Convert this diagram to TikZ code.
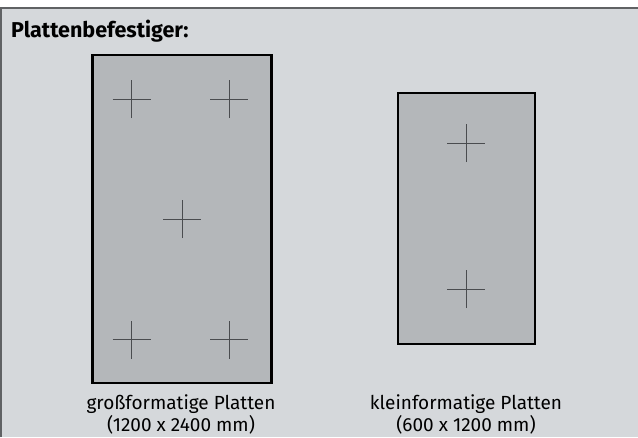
\documentclass[tikz,border=0pt]{standalone}
\usepackage{fontspec}
\setmainfont{Fira Sans}
\begin{document}
\begin{tikzpicture}[x=1pt,y=-1pt,
  bg/.style={fill=bgfill,draw=none},
  panel/.style={fill=panelfill,draw=black,line width=2.6pt},
  cross/.style={draw=crossline,line width=1pt},
  lbl/.style={font=\fontsize{19}{22}\selectfont,align=center,inner sep=0pt}]
\definecolor{bgfill}{HTML}{D5D8DB}
\definecolor{panelfill}{HTML}{B4B7BA}
\definecolor{crossline}{HTML}{4A4C4F}
\definecolor{frameline}{HTML}{606264}
\useasboundingbox (0,0) rectangle (638,437);
\fill[white] (0,0) rectangle (638,437);
\fill[bgfill] (0,8) rectangle (638,437);
\draw[frameline,line width=1.8pt] (1,437) -- (1,8) -- (638,8);
\node[anchor=base west,inner sep=0pt,font=\fontsize{21.5}{25}\selectfont\bfseries] (title) at (11,37) {Plattenbefestiger:};
% big panel
\node[panel,minimum width=179pt,minimum height=328pt,inner sep=0pt] (big) at (182,219) {};
\foreach \n/\px/\py in {a/131.5/99,b/229/99,c/182/219,d/131.5/339.5,e/229/339.5}{
  \coordinate (\n) at (\px,\py);
  \draw[cross] ([xshift=-19pt]\n) -- ([xshift=19pt]\n);
  \draw[cross] ([yshift=-19pt]\n) -- ([yshift=19pt]\n);
}
% small panel
\node[panel,minimum width=137pt,minimum height=251pt,inner sep=0pt] (small) at (466.5,218.5) {};
\foreach \n/\px/\py in {f/466/143,g/466/289}{
  \coordinate (\n) at (\px,\py);
  \draw[cross] ([xshift=-19pt]\n) -- ([xshift=19pt]\n);
  \draw[cross] ([yshift=-19pt]\n) -- ([yshift=19pt]\n);
}
\node[lbl,anchor=base] (l1) at (181,409) {großformatige Platten};
\node[lbl,anchor=base] (l1b) at (181,431) {(1200 x 2400 mm)};
\node[lbl,anchor=base] (l2) at (466,409) {kleinformatige Platten};
\node[lbl,anchor=base] (l2b) at (466,431) {(600 x 1200 mm)};
\end{tikzpicture}
\end{document}
